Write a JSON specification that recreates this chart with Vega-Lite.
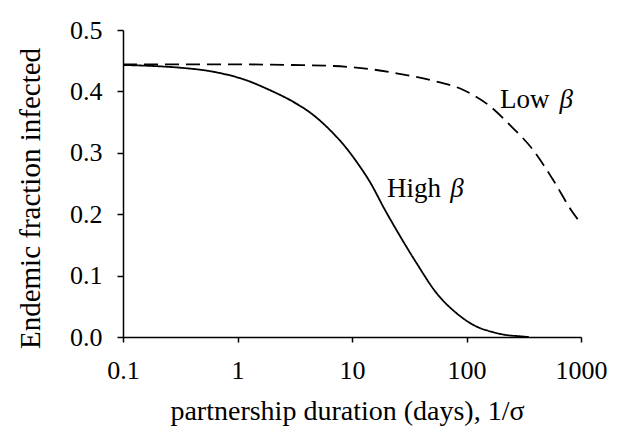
{
  "$schema": "https://vega.github.io/schema/vega-lite/v6.json",
  "width": 458,
  "height": 307,
  "autosize": {"type": "none"},
  "padding": {"left": 123, "top": 30, "right": 40, "bottom": 109},
  "background": "white",
  "config": {
    "view": {"stroke": null},
    "font": "Liberation Serif",
    "axis": {
      "grid": false,
      "domainColor": "black",
      "domainWidth": 1.5,
      "tickColor": "black",
      "tickWidth": 1.5,
      "labelColor": "black",
      "titleColor": "black",
      "labelFont": "Liberation Serif",
      "titleFont": "Liberation Serif",
      "titleFontWeight": "normal"
    }
  },
  "datasets": {
    "curves": [
      {"x": 0.1, "y": 0.443, "series": "High"},
      {"x": 0.2, "y": 0.441, "series": "High"},
      {"x": 0.315, "y": 0.4386, "series": "High"},
      {"x": 0.615, "y": 0.432, "series": "High"},
      {"x": 1.2, "y": 0.418, "series": "High"},
      {"x": 1.92, "y": 0.402, "series": "High"},
      {"x": 3.07, "y": 0.383, "series": "High"},
      {"x": 4.59, "y": 0.3616, "series": "High"},
      {"x": 6.43, "y": 0.337, "series": "High"},
      {"x": 8.98, "y": 0.307, "series": "High"},
      {"x": 11, "y": 0.285, "series": "High"},
      {"x": 14.4, "y": 0.252, "series": "High"},
      {"x": 19.4, "y": 0.207, "series": "High"},
      {"x": 24.5, "y": 0.174, "series": "High"},
      {"x": 36.7, "y": 0.12, "series": "High"},
      {"x": 55, "y": 0.071, "series": "High"},
      {"x": 82, "y": 0.0386, "series": "High"},
      {"x": 123, "y": 0.0168, "series": "High"},
      {"x": 170, "y": 0.008, "series": "High"},
      {"x": 210, "y": 0.004, "series": "High"},
      {"x": 300, "y": 0.001, "series": "High"},
      {"x": 350, "y": 0.0, "series": "High"},
      {"x": 0.1, "y": 0.444, "series": "Low"},
      {"x": 1, "y": 0.444, "series": "Low"},
      {"x": 3, "y": 0.443, "series": "Low"},
      {"x": 6.9, "y": 0.4414, "series": "Low"},
      {"x": 12.6, "y": 0.4376, "series": "Low"},
      {"x": 24.5, "y": 0.4295, "series": "Low"},
      {"x": 48, "y": 0.4186, "series": "Low"},
      {"x": 94, "y": 0.4023, "series": "Low"},
      {"x": 160, "y": 0.376, "series": "Low"},
      {"x": 240, "y": 0.345, "series": "Low"},
      {"x": 380, "y": 0.305, "series": "Low"},
      {"x": 570, "y": 0.256, "series": "Low"},
      {"x": 857, "y": 0.2015, "series": "Low"},
      {"x": 1000, "y": 0.185, "series": "Low"}
    ],
    "words": [
      {"x": 20.2, "y": 0.228, "text": "High"},
      {"x": 196, "y": 0.373, "text": "Low"}
    ],
    "greek": [
      {"x": 72, "y": 0.228, "text": "β"},
      {"x": 650, "y": 0.373, "text": "β"}
    ]
  },
  "layer": [
    {
      "data": {"name": "curves"},
      "mark": {"type": "line", "color": "black", "strokeWidth": 1.8, "interpolate": "monotone", "clip": true},
      "encoding": {
        "x": {
          "field": "x", "type": "quantitative",
          "scale": {"type": "log", "domain": [0.1, 1000], "nice": false},
          "axis": {
            "values": [0.1, 1, 10, 100, 1000],
            "format": "~g",
            "tickSize": 5,
            "labelFontSize": 26,
            "labelBaseline": "alphabetic",
            "labelPadding": 36,
            "labelFlush": false,
            "labelOverlap": false,
            "title": "partnership duration (days), 1/σ",
            "titleFontSize": 28,
            "titleX": 224,
            "titleY": 82,
            "titleBaseline": "alphabetic",
            "titleAlign": "center"
          }
        },
        "y": {
          "field": "y", "type": "quantitative",
          "scale": {"domain": [0, 0.5], "nice": false},
          "axis": {
            "values": [0, 0.1, 0.2, 0.3, 0.4, 0.5],
            "format": ".1f",
            "tickSize": 6,
            "labelFontSize": 26,
            "labelPadding": 15,
            "labelFlush": false,
            "labelOverlap": false,
            "title": "Endemic fraction infected",
            "titleFontSize": 29,
            "titleAngle": -90,
            "titleX": -84,
            "titleY": 168,
            "titleBaseline": "alphabetic",
            "titleAlign": "center"
          }
        },
        "strokeDash": {
          "field": "series", "type": "nominal",
          "scale": {"domain": ["High", "Low"], "range": [[1, 0], [14, 7]]},
          "legend": null
        }
      }
    },
    {
      "data": {"name": "words"},
      "mark": {"type": "text", "font": "Liberation Serif", "fontSize": 27, "align": "left", "baseline": "alphabetic", "color": "black"},
      "encoding": {
        "x": {"field": "x", "type": "quantitative"},
        "y": {"field": "y", "type": "quantitative"},
        "text": {"field": "text"}
      }
    },
    {
      "data": {"name": "greek"},
      "mark": {"type": "text", "font": "Liberation Serif", "fontSize": 27, "fontStyle": "italic", "align": "left", "baseline": "alphabetic", "color": "black"},
      "encoding": {
        "x": {"field": "x", "type": "quantitative"},
        "y": {"field": "y", "type": "quantitative"},
        "text": {"field": "text"}
      }
    }
  ]
}
